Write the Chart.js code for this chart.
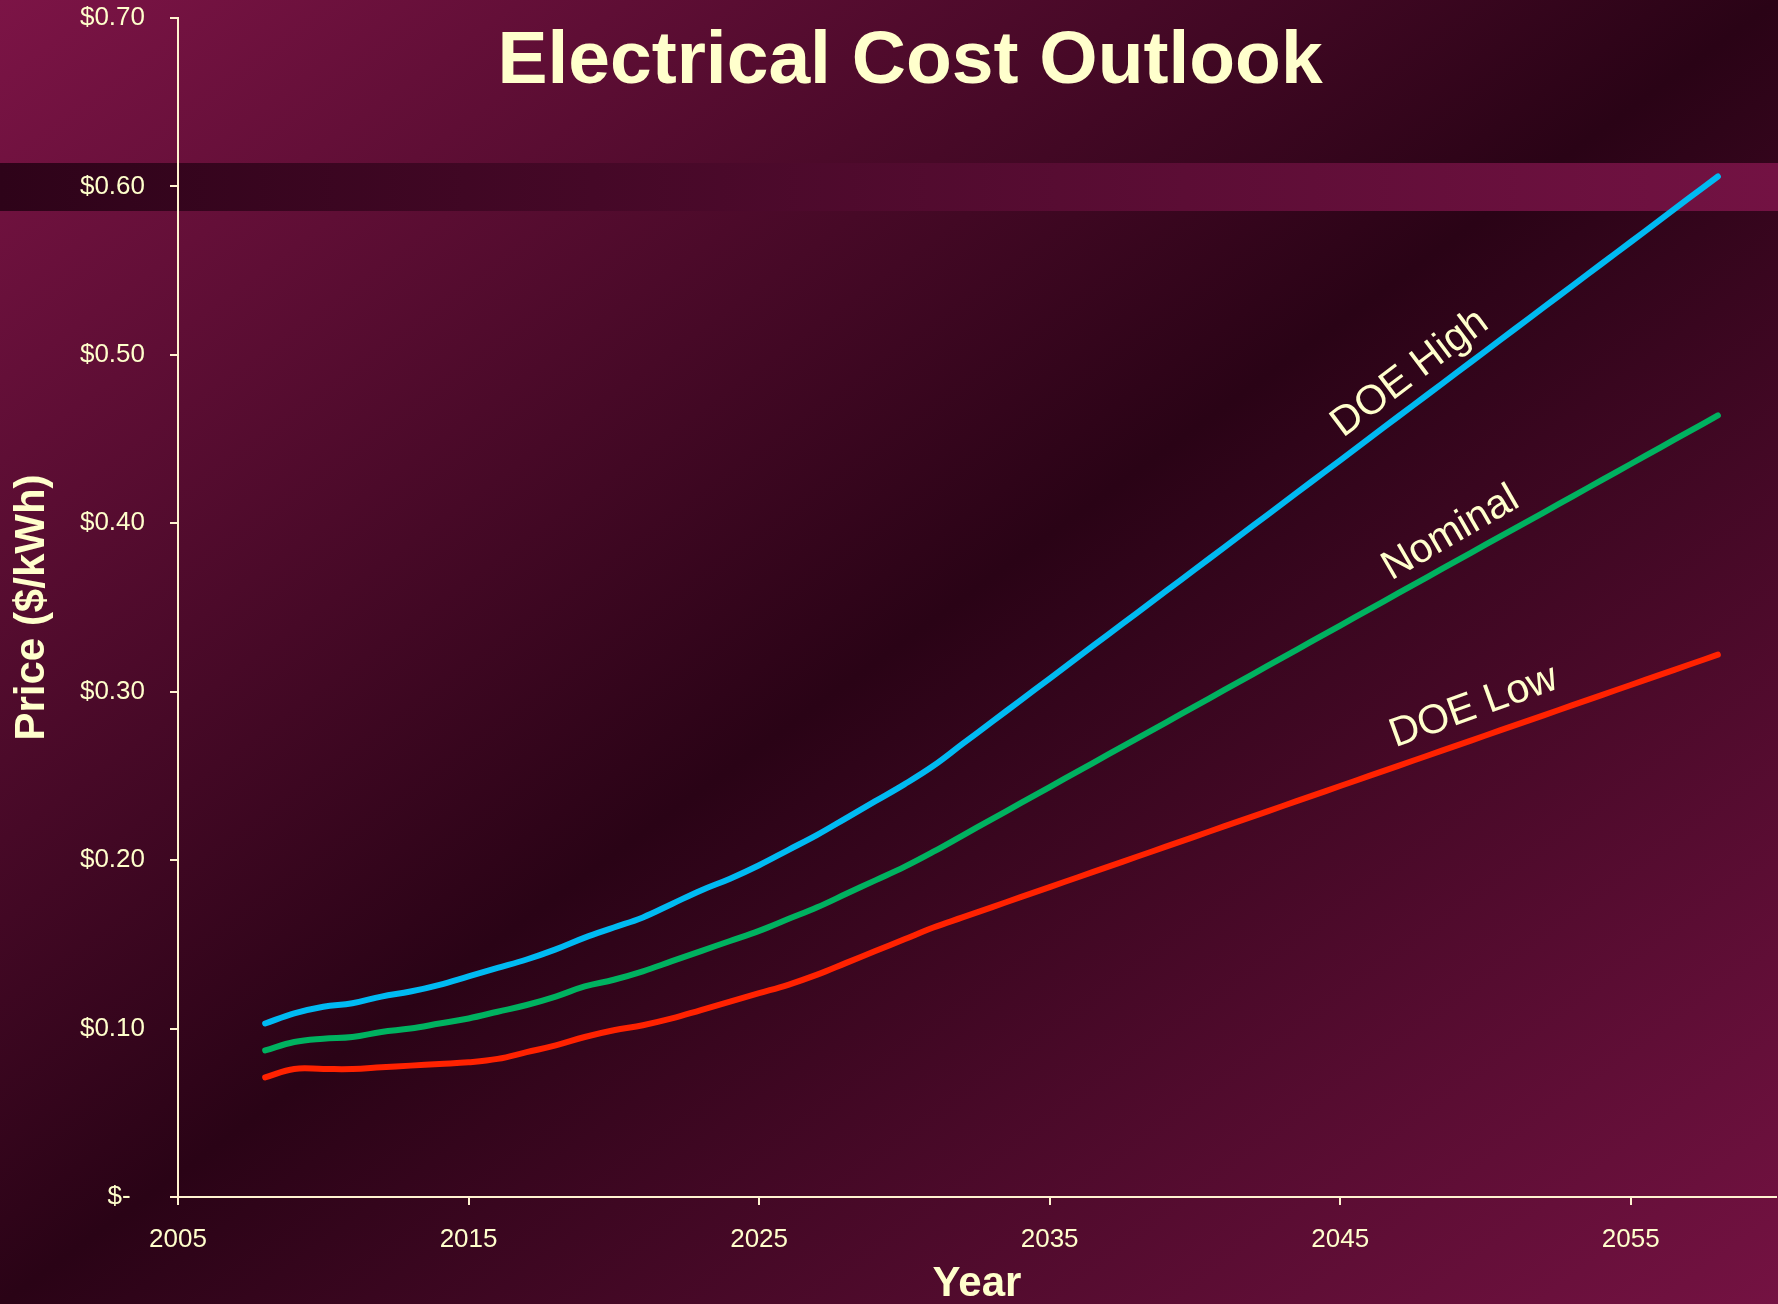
<!DOCTYPE html>
<html>
<head>
<meta charset="utf-8">
<script src="https://cdn.jsdelivr.net/npm/chart.js@4.4.1/dist/chart.umd.min.js"></script>
<style>
html,body{margin:0;padding:0;background:#2a0316;overflow:hidden}
canvas{display:block}
</style>
</head>
<body>
<canvas id="c" width="1778" height="1304" style="width:1778px;height:1304px"></canvas>
<script>
// ---- data ----
const chartTitle = 'Electrical Cost Outlook';
const xAxisTitle = 'Year';
const yAxisTitle = 'Price ($/kWh)';
const seriesNames = ['DOE High', 'Nominal', 'DOE Low'];
const years = [2008,2009,2010,2011,2012,2013,2014,2015,2016,2017,2018,2019,2020,2021,2022,2023,2024,2025,2026,2027,2028,2029,2030,2031,2032,2033,2034,2035,2036,2037,2038,2039,2040,2041,2042,2043,2044,2045,2046,2047,2048,2049,2050,2051,2052,2053,2054,2055,2056,2057,2058];
const doeHigh = [0.103,0.109,0.113,0.115,0.119,0.122,0.126,0.131,0.136,0.141,0.147,0.154,0.160,0.166,0.174,0.182,0.189,0.197,0.206,0.215,0.225,0.235,0.245,0.256,0.2690,0.2819,0.2949,0.3078,0.3208,0.3338,0.3467,0.3597,0.3726,0.3856,0.3986,0.4115,0.4245,0.4374,0.4504,0.4634,0.4763,0.4893,0.5022,0.5152,0.5282,0.5411,0.5541,0.5670,0.5800,0.5930,0.6059];
const nominal = [0.087,0.092,0.094,0.095,0.098,0.100,0.103,0.106,0.110,0.114,0.119,0.125,0.129,0.134,0.140,0.146,0.152,0.158,0.165,0.172,0.180,0.188,0.196,0.205,0.2146,0.2242,0.2338,0.2434,0.2530,0.2626,0.2722,0.2817,0.2913,0.3009,0.3105,0.3201,0.3297,0.3393,0.3489,0.3585,0.3681,0.3777,0.3873,0.3969,0.4064,0.4160,0.4256,0.4352,0.4448,0.4544,0.4640];
const doeLow = [0.071,0.076,0.076,0.076,0.077,0.078,0.079,0.080,0.082,0.086,0.090,0.095,0.099,0.102,0.106,0.111,0.116,0.121,0.126,0.132,0.139,0.146,0.153,0.160,0.166,0.172,0.178,0.184,0.190,0.196,0.202,0.208,0.214,0.220,0.226,0.232,0.238,0.244,0.250,0.256,0.262,0.268,0.274,0.280,0.286,0.292,0.298,0.304,0.310,0.316,0.322];
const xTickValues = [2005,2015,2025,2035,2045,2055];
const yTickValues = [0,0.1,0.2,0.3,0.4,0.5,0.6,0.7];

// ---- styles ----
const FONT = '"Liberation Sans", Arial, Helvetica, sans-serif';
const CREAM = '#FFFFCC';
const AXIS = '#FFF3D0';
const colors = ['#00BAF2', '#00B260', '#FF2200'];
const seriesData = [doeHigh, nominal, doeLow];
// label anchors (in data units) and rotation, for the in-plot series names
const labelAnchors = [
  {year: 2047.4, value: 0.489, angle: -37},
  {year: 2048.8, value: 0.394, angle: -30},
  {year: 2049.6, value: 0.291, angle: -20}
];

const bgPlugin = {
  id: 'bg',
  beforeDraw(chart) {
    const {ctx, width: W, height: H} = chart;
    ctx.save();
    const d = Math.sqrt(W * W + H * H);
    const ux = H / d, uy = W / d, L = W * H / d;
    const cx = W / 2, cy = H / 2;
    const g = ctx.createLinearGradient(cx - ux * L, cy - uy * L, cx + ux * L, cy + uy * L);
    g.addColorStop(0, '#7c1446');
    g.addColorStop(0.5, '#2a0316');
    g.addColorStop(1, '#741242');
    ctx.fillStyle = g;
    ctx.fillRect(0, 0, W, H);
    const g2 = ctx.createLinearGradient(0, 0, W, 0);
    g2.addColorStop(0, '#2e0319');
    g2.addColorStop(1, '#731243');
    ctx.fillStyle = g2;
    ctx.fillRect(0, 163, W, 48);
    ctx.restore();
  }
};

const textPlugin = {
  id: 'texts',
  afterDatasetsDraw(chart) {
    const {ctx, scales: {x, y}} = chart;
    ctx.save();
    ctx.fillStyle = CREAM;
    ctx.font = 'bold 75px ' + FONT;
    ctx.textAlign = 'center';
    ctx.textBaseline = 'alphabetic';
    ctx.fillText(chartTitle, 910, 83);
    ctx.font = '41px ' + FONT;
    ctx.textBaseline = 'middle';
    labelAnchors.forEach((a, i) => {
      ctx.save();
      ctx.translate(x.getPixelForValue(a.year), y.getPixelForValue(a.value));
      ctx.rotate(a.angle * Math.PI / 180);
      ctx.fillText(seriesNames[i], 0, 0);
      ctx.restore();
    });
    ctx.restore();
  }
};

const datasets = seriesNames.map((name, i) => ({
  label: name,
  data: years.map((yr, j) => ({x: yr, y: seriesData[i][j]})),
  borderColor: colors[i],
  backgroundColor: colors[i],
  borderWidth: 6,
  borderCapStyle: 'round',
  borderJoinStyle: 'round',
  pointRadius: 0,
  tension: 0.4,
  fill: false
}));

Chart.defaults.font.family = FONT;

new Chart(document.getElementById('c'), {
  type: 'line',
  data: {datasets},
  plugins: [bgPlugin, textPlugin],
  options: {
    responsive: false,
    animation: false,
    devicePixelRatio: 1,
    layout: {padding: {top: 18, right: 2, left: 0, bottom: 0}},
    plugins: {legend: {display: false}, tooltip: {enabled: false}, title: {display: false}},
    scales: {
      x: {
        type: 'linear',
        min: 2005, max: 2060,
        afterBuildTicks(scale) { scale.ticks = xTickValues.map(v => ({value: v})); },
        afterFit(scale) { scale.height = 107; scale.paddingLeft = 0; scale.paddingRight = 0; },
        ticks: {color: CREAM, font: {size: 26}, padding: 19, maxRotation: 0, autoSkip: false, callback: v => String(v)},
        grid: {drawOnChartArea: false, drawTicks: true, tickLength: 8, color: AXIS, lineWidth: 2},
        border: {display: true, color: AXIS, width: 2},
        title: {display: true, text: xAxisTitle, color: CREAM, font: {size: 42, weight: 'bold', lineHeight: 0.9}, padding: {top: 0, bottom: 1}}
      },
      y: {
        min: 0, max: 0.7,
        afterBuildTicks(scale) { scale.ticks = yTickValues.map(v => ({value: v})); },
        afterFit(scale) { scale.width = 178; scale.paddingTop = 0; scale.paddingBottom = 0; },
        ticks: {color: CREAM, font: {size: 26}, padding: 25, autoSkip: false,
          callback: v => (Math.abs(v) < 1e-9 ? '$-  ' : '$' + v.toFixed(2))},
        grid: {drawOnChartArea: false, drawTicks: true, tickLength: 8, color: AXIS, lineWidth: 2},
        border: {display: true, color: AXIS, width: 2},
        title: {display: true, text: yAxisTitle, color: CREAM, font: {size: 42, weight: 'bold', lineHeight: 1}, padding: {top: 11, bottom: 0}}
      }
    }
  }
});
</script>
</body>
</html>
